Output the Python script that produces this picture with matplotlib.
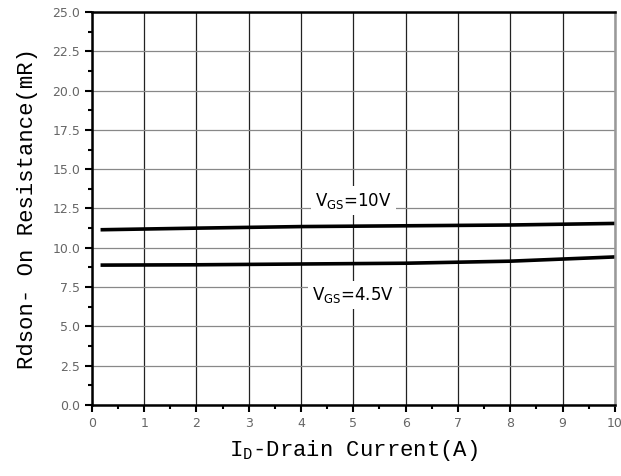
import matplotlib.pyplot as plt
from matplotlib.ticker import MultipleLocator

current = [0.2, 2, 4, 6, 8, 10]
r_10v = [11.15, 11.25, 11.35, 11.4, 11.45, 11.55]
r_45v = [8.9, 8.92, 8.97, 9.02, 9.15, 9.42]

fig = plt.figure(figsize=(6.21, 4.76), dpi=100)
ax = fig.add_axes([0.148, 0.149, 0.842, 0.826])

ax.plot(current, r_10v, color="black", lw=2.6)
ax.plot(current, r_45v, color="black", lw=2.6)

ax.set_xlim(0, 10)
ax.set_ylim(0, 25)
ax.xaxis.set_major_locator(MultipleLocator(1))
ax.xaxis.set_minor_locator(MultipleLocator(0.5))
ax.yaxis.set_major_locator(MultipleLocator(2.5))
ax.yaxis.set_minor_locator(MultipleLocator(1.25))
ax.yaxis.set_major_formatter(plt.FormatStrFormatter("%.1f"))

ax.grid(axis="x", color="#222222", lw=0.9)
ax.grid(axis="y", color="#888888", lw=0.9)
ax.set_axisbelow(True)

for s in ax.spines.values():
    s.set_linewidth(1.8)
ax.spines["right"].set_color("#999999")
ax.tick_params(which="major", direction="out", length=5, width=1.5,
               labelsize=9, labelcolor="#666666")
ax.tick_params(which="minor", direction="out", length=3, width=1.5)

box = dict(facecolor="white", edgecolor="none", pad=3)
ax.text(5.0, 13.0, r"V$_{\mathregular{GS}}$=10V", ha="center", va="center",
        fontsize=12, bbox=box)
ax.text(5.0, 7.0, r"V$_{\mathregular{GS}}$=4.5V", ha="center", va="center",
        fontsize=12, bbox=box)

ax.set_xlabel(r"I$_{\mathregular{D}}$-Drain Current(A)", fontsize=16,
              family="Liberation Mono", labelpad=6)
ax.set_ylabel("Rdson- On Resistance(mR)", fontsize=16,
              family="Liberation Mono", labelpad=10)

fig.savefig("out.png", dpi=100)
